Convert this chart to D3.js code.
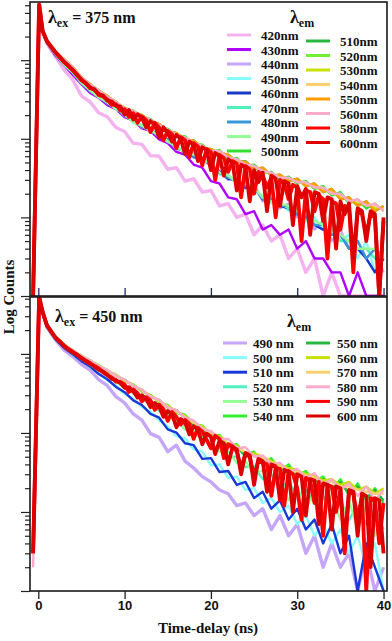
<!DOCTYPE html>
<html>
<head>
<meta charset="utf-8">
<script src="https://cdn.jsdelivr.net/npm/d3@7"></script>
<style>
body { margin: 0; background: #fff; }
svg { display: block; }
</style>
</head>
<body>
<svg id="chart" width="392" height="641"></svg>
<script>
// time channels (ns): a coarse grid for most decays, a finer one for the two red ones
var times = [-0.6, 0.1, 0.5, 1, 2, 3, 4, 5, 6, 7, 8, 9, 10, 11, 12, 13, 14, 15, 16, 17, 18, 19, 20,
  21, 22, 23, 24, 25, 26, 27, 28, 29, 30, 31, 32, 33, 34, 35, 36, 37, 38, 39, 40];
var timesFine = [-0.6, 0.1, 0.5, 1, 1.5, 2, 2.5, 3, 3.5, 4, 4.5, 5, 5.5, 6, 6.5, 7, 7.5, 8, 8.5, 9, 9.5,
  10, 10.5, 11, 11.5, 12, 12.5, 13, 13.5, 14, 14.5, 15, 15.5, 16, 16.5, 17, 17.5, 18, 18.5, 19, 19.5,
  20, 20.5, 21, 21.5, 22, 22.5, 23, 23.5, 24, 24.5, 25, 25.5, 26, 26.5, 27, 27.5, 28, 28.5, 29, 29.5,
  30, 30.5, 31, 31.5, 32, 32.5, 33, 33.5, 34, 34.5, 35, 35.5, 36, 36.5, 37, 37.5, 38, 38.5, 39, 39.5, 40];
var xTicks = [0, 10, 20, 30, 40];

// excitation 375 nm, counts
var ex375_420 = [1, 4950, 2280, 1620, 1110, 745, 560, 352, 295, 214, 190, 139, 124, 88, 85, 61, 60, 41, 43, 29, 31, 21, 22, 14, 15, 10, 11, 6, 8, 5, 6, 3, 4, 2, 3, 1, 2, 0, 1, 0, 1, 0, 0];
var ex375_430 = [1, 5050, 2330, 1670, 1140, 862, 648, 495, 384, 333, 268, 238, 188, 170, 136, 126, 98, 88, 68, 63, 47, 43, 29, 27, 18, 17, 11, 12, 7, 8, 6, 7, 4, 5, 3, 3, 2, 2, 1, 2, 1, 1, 0];
var ex375_440 = [1, 5080, 2340, 1710, 1180, 890, 690, 528, 402, 350, 281, 249, 196, 171, 140, 133, 104, 99, 73, 72, 57, 58, 44, 39, 30, 31, 23, 26, 16, 18, 13, 15, 10, 11, 7, 9, 5, 7, 4, 5, 3, 4, 2];
var ex375_450 = [1, 5070, 2350, 1690, 1200, 872, 708, 512, 418, 336, 294, 237, 210, 161, 150, 124, 114, 91, 82, 66, 65, 51, 51, 35, 35, 27, 28, 22, 19, 15, 16, 12, 13, 9, 10, 7, 8, 5, 6, 3, 5, 2, 4];
var ex375_460 = [1, 5090, 2330, 1705, 1185, 885, 695, 525, 405, 347, 283, 246, 199, 169, 142, 131, 107, 97, 76, 71, 59, 56, 46, 38, 31, 30, 24, 25, 17, 17, 14, 13, 11, 10, 8, 7, 6, 6, 4, 4, 3, 2, 3];
var ex375_470 = [1, 5080, 2345, 1695, 1195, 876, 704, 516, 414, 339, 292, 240, 206, 163, 148, 126, 112, 93, 80, 67, 64, 53, 49, 36, 34, 28, 27, 23, 18, 16, 15, 13, 12, 9, 9, 8, 7, 5, 5, 4, 4, 3, 4];
var ex375_480 = [1, 5085, 2338, 1702, 1188, 882, 697, 522, 407, 345, 285, 245, 201, 168, 143, 130, 108, 96, 77, 70, 60, 56, 47, 37, 32, 29, 25, 24, 17, 17, 14, 14, 11, 10, 8, 8, 6, 6, 4, 5, 3, 4, 3];
var ex375_490 = [1, 5075, 2342, 1698, 1192, 878, 702, 518, 412, 340, 290, 241, 205, 164, 147, 127, 111, 94, 79, 68, 63, 54, 49, 37, 34, 28, 27, 24, 18, 16, 15, 14, 12, 9, 9, 8, 7, 6, 5, 4, 4, 4, 3];
var ex375_500 = [1, 5120, 2380, 1790, 1268, 1035, 802, 612, 484, 416, 340, 298, 238, 229, 190, 178, 145, 134, 110, 107, 86, 84, 67, 72, 56, 57, 45, 47, 37, 38, 30, 33, 27, 29, 23, 25, 19, 21, 15, 17, 13, 15, 12];
var ex375_510 = [1, 5110, 2385, 1780, 1282, 1018, 818, 598, 498, 404, 352, 286, 249, 219, 201, 168, 155, 125, 119, 98, 95, 77, 74, 66, 63, 51, 52, 41, 43, 34, 35, 29, 31, 25, 27, 21, 23, 17, 18, 14, 16, 12, 14];
var ex375_520 = [1, 5130, 2375, 1788, 1272, 1030, 806, 608, 488, 413, 343, 295, 241, 226, 193, 175, 148, 131, 112, 104, 88, 82, 69, 70, 58, 55, 47, 45, 39, 36, 32, 31, 28, 27, 24, 23, 20, 19, 16, 16, 14, 14, 13];
var ex375_530 = [1, 5115, 2382, 1783, 1278, 1022, 814, 602, 494, 407, 349, 289, 246, 221, 199, 170, 153, 127, 117, 100, 93, 79, 73, 67, 62, 52, 50, 42, 42, 35, 34, 30, 30, 26, 26, 22, 22, 18, 17, 15, 15, 13, 13];
var ex375_540 = [1, 5125, 2378, 1786, 1276, 1028, 808, 606, 490, 411, 345, 293, 244, 223, 196, 172, 151, 129, 114, 103, 90, 81, 70, 69, 59, 54, 48, 44, 40, 36, 33, 31, 29, 27, 25, 23, 21, 19, 17, 16, 15, 14, 13];
var ex375_550 = [1, 5118, 2384, 1781, 1280, 1020, 816, 600, 496, 405, 351, 287, 247, 220, 200, 169, 154, 126, 118, 99, 94, 78, 74, 66, 63, 51, 51, 42, 43, 34, 35, 29, 31, 25, 27, 21, 23, 17, 18, 14, 16, 12, 14];
var ex375_560 = [1, 5122, 2379, 1787, 1273, 1029, 807, 607, 489, 412, 344, 294, 243, 224, 195, 173, 150, 130, 113, 103, 89, 81, 70, 70, 58, 55, 47, 45, 39, 37, 32, 32, 28, 28, 24, 24, 20, 20, 16, 17, 14, 15, 12];
// red decays, on the fine grid
var ex375_580 = [1, 5100, 2350, 1755, 1490, 1250, 1095, 940, 852, 740, 655, 555, 515, 440, 428, 360, 345, 318, 270, 275, 228,
  238, 190, 212, 160, 192, 172, 122, 160, 138, 96, 126, 114, 76, 105, 96, 58, 88, 80, 46, 74,
  68, 30, 62, 57, 38, 52, 48, 18, 45, 41, 20, 38, 34, 24, 32, 10, 30, 27, 17, 26,
  24, 5, 22, 21, 12, 19, 17, 3, 16, 15, 7, 14, 13, 2, 12, 11, 6, 11, 10, 0, 9];
var ex375_600 = [1, 5100, 2350, 1740, 1470, 1265, 1085, 950, 840, 752, 640, 568, 505, 450, 420, 372, 356, 305, 300, 262, 256,
  205, 232, 176, 205, 185, 140, 168, 150, 104, 140, 118, 92, 112, 100, 64, 92, 84, 52, 78, 72,
  40, 66, 60, 34, 55, 50, 22, 47, 44, 16, 40, 28, 37, 12, 34, 31, 14, 29, 27, 8,
  25, 18, 23, 6, 21, 20, 9, 18, 17, 4, 16, 11, 15, 3, 13, 12, 5, 12, 11, 1, 10];

// excitation 450 nm, lower panel
var ex450_490 = [3, 5200, 3350, 2170, 1500, 1120, 925, 738, 622, 472, 396, 288, 240, 174, 145, 98, 88, 58, 70, 44, 36, 28, 24, 19, 17, 12, 13, 9, 11, 6, 9, 5, 7, 3, 5, 2, 4, 2, 3, 1, 3, 0, 2];
var ex450_500 = [3, 5230, 3380, 2240, 1510, 1210, 970, 832, 676, 575, 462, 398, 312, 272, 214, 186, 144, 121, 91, 85, 62, 58, 39, 40, 27, 28, 19, 20, 13, 15, 10, 12, 7, 9, 5, 7, 4, 6, 3, 5, 2, 4, 1];
var ex450_510 = [3, 5240, 3390, 2225, 1530, 1190, 988, 810, 692, 556, 478, 382, 328, 258, 226, 174, 156, 111, 101, 74, 70, 47, 48, 32, 33, 22, 24, 15, 18, 11, 14, 8, 11, 6, 8, 4, 7, 3, 5, 0, 4, 2, 0];
var ex450_520 = [3, 5245, 3400, 2310, 1580, 1255, 1025, 880, 732, 634, 522, 458, 372, 330, 266, 238, 190, 174, 134, 126, 96, 92, 66, 66, 50, 50, 37, 38, 26, 30, 20, 24, 16, 19, 13, 16, 10, 14, 8, 12, 7, 11, 6];
var ex450_530 = [3, 5250, 3395, 2295, 1600, 1235, 1045, 860, 748, 616, 538, 442, 388, 314, 282, 224, 204, 160, 148, 110, 106, 80, 76, 58, 58, 42, 44, 30, 34, 20, 26, 14, 21, 11, 18, 9, 16, 8, 14, 6, 12, 5, 11];
var ex450_540 = [3, 5260, 3410, 2360, 1640, 1320, 1090, 955, 810, 720, 606, 546, 454, 410, 336, 302, 246, 225, 180, 170, 130, 124, 92, 94, 70, 72, 53, 58, 40, 48, 33, 40, 28, 33, 24, 28, 19, 26, 16, 23, 14, 20, 13];
var ex450_550 = [3, 5255, 3405, 2345, 1660, 1300, 1110, 935, 830, 700, 626, 526, 474, 392, 354, 286, 262, 209, 194, 155, 124, 112, 87, 86, 66, 68, 50, 55, 42, 44, 35, 37, 30, 30, 25, 26, 20, 24, 17, 21, 15, 19, 14];
var ex450_560 = [3, 5260, 3408, 2355, 1645, 1315, 1095, 950, 815, 715, 611, 541, 459, 405, 340, 298, 250, 221, 184, 166, 133, 121, 95, 91, 73, 69, 56, 55, 50, 44, 40, 36, 34, 30, 29, 25, 26, 22, 24, 19, 21, 17, 20];
var ex450_570 = [3, 5258, 3402, 2350, 1655, 1305, 1105, 940, 825, 705, 621, 531, 469, 397, 350, 290, 258, 213, 190, 158, 136, 116, 98, 88, 72, 66, 56, 52, 47, 42, 38, 34, 32, 29, 27, 24, 24, 21, 21, 19, 18, 17, 17];
var ex450_580 = [2, 5250, 3400, 2340, 1650, 1300, 1110, 935, 830, 700, 626, 528, 472, 394, 352, 288, 262, 210, 194, 156, 144, 112, 106, 84, 84, 64, 66, 50, 52, 40, 42, 32, 35, 27, 31, 22, 26, 19, 23, 16, 21, 14, 19];
// red decays, on the fine grid
var ex450_590 = [3, 5250, 3400, 2310, 1920, 1590, 1440, 1270, 1130, 1045, 975, 895, 810, 750, 705, 655, 585, 540, 505, 445, 442,
  410, 330, 356, 318, 250, 284, 258, 196, 228, 200, 142, 184, 160, 128, 146, 130, 84, 116, 104, 82,
  64, 92, 84, 48, 72, 68, 58, 36, 54, 50, 28, 45, 42, 40, 16, 36, 35, 12, 33, 30,
  20, 8, 27, 25, 13, 24, 5, 22, 21, 10, 19, 3, 18, 17, 8, 16, 1, 15, 14, 4, 13];
var ex450_600 = [3, 5250, 3400, 2290, 1900, 1610, 1420, 1250, 1150, 1060, 965, 880, 820, 765, 690, 632, 600, 548, 482, 468, 430,
  372, 380, 338, 280, 300, 270, 212, 240, 218, 160, 190, 172, 118, 150, 138, 96, 122, 110, 72, 98,
  90, 54, 80, 74, 40, 66, 62, 30, 56, 52, 22, 47, 44, 18, 40, 38, 14, 34, 32, 10,
  30, 28, 9, 26, 25, 7, 23, 22, 6, 21, 20, 4, 19, 18, 5, 17, 16, 2, 15, 14, 3];

var ex375_labels = ['420nm', '430nm', '440nm', '450nm', '460nm', '470nm', '480nm', '490nm', '500nm',
  '510nm', '520nm', '530nm', '540nm', '550nm', '560nm', '580nm', '600nm'];
var ex450_labels = ['490 nm', '500 nm', '510 nm', '520 nm', '530 nm', '540 nm',
  '550 nm', '560 nm', '570 nm', '580 nm', '590 nm', '600 nm'];

var ex375_series = [ex375_420, ex375_430, ex375_440, ex375_450, ex375_460, ex375_470, ex375_480, ex375_490, ex375_500,
  ex375_510, ex375_520, ex375_530, ex375_540, ex375_550, ex375_560, ex375_580, ex375_600];
var ex450_series = [ex450_490, ex450_500, ex450_510, ex450_520, ex450_530, ex450_540,
  ex450_550, ex450_560, ex450_570, ex450_580, ex450_590, ex450_600];

var ex375_colors = ['#f4b2ee', '#b000ff', '#c6a6f8', '#88ffff', '#1838c8', '#50f0b8', '#3898d8', '#98ff98', '#30e030',
  '#28b840', '#70f030', '#c8e000', '#f8d070', '#ff9c00', '#ffaacc', '#ff0000', '#dc0000'];
var ex450_colors = ['#c6a6f8', '#88ffff', '#1838d8', '#50f0c0', '#98ff98', '#30f030',
  '#28b840', '#c8e000', '#f8d070', '#ffaacc', '#ff0000', '#dc0000'];

var serif = '"Liberation Serif", "Times New Roman", serif';
var sans = '"Liberation Sans", Arial, sans-serif';
var left = 30, right = 387;

var svg = d3.select('#chart');
var x = d3.scaleLinear().domain([-0.96, 40.4]).range([left, right]);

function lambdaText(xp, yp, sub, rest, size) {
    var t = svg.append('text').attr('x', xp).attr('y', yp)
        .attr('font-family', serif).attr('font-weight', 'bold').attr('fill', '#111');
    t.append('tspan').attr('font-size', size + 2).text('λ');
    t.append('tspan').attr('font-size', Math.round(size * 0.78)).attr('dy', 4).text(sub);
    if (rest) t.append('tspan').attr('font-size', size).attr('dy', -4).text('\u00a0' + rest);
}

function panel(p) {
    var y = d3.scaleLog().domain([1, p.ymax]).range([p.y1, p.y0]);
    var g = svg.append('g');

    g.append('clipPath').attr('id', p.id).append('rect')
        .attr('x', left).attr('y', p.y0).attr('width', right - left).attr('height', p.y1 - p.y0);

    // the time grid follows the length of each series
    var line = d3.line()
        .x((d, i, arr) => x((arr.length === timesFine.length ? timesFine : times)[i]))
        .y((d) => y(Math.max(d, 1)));

    g.append('g').attr('clip-path', 'url(#' + p.id + ')')
        .selectAll('path').data(p.series).enter().append('path')
        .attr('d', line)
        .attr('fill', 'none')
        .attr('stroke', (d, i) => p.colors[i])
        .attr('stroke-width', (d, i) => d.length === timesFine.length ? 3.8 : (i === 0 ? 3.4 : 2.4))
        .attr('stroke-linejoin', 'round');

    // log ticks on the left, no labels
    var major = [], minor = [];
    [1, 10, 100, 1000].forEach((dec) => {
        major.push(dec);
        for (var k = 2; k < 10; k++) if (dec * k <= p.ymax) minor.push(dec * k);
    });
    var ya = g.append('g').attr('transform', 'translate(' + left + ',0)');
    ya.call(d3.axisLeft(y).tickValues(major).tickSize(9).tickSizeOuter(0).tickFormat(''));
    ya.append('g').call(d3.axisLeft(y).tickValues(minor).tickSize(5).tickSizeOuter(0).tickFormat(''));
    ya.selectAll('.domain').remove();
    ya.selectAll('line').attr('stroke', '#222').attr('stroke-width', 1.2);

    // x ticks along the bottom edge
    var xa = g.append('g').attr('transform', 'translate(0,' + p.y1 + ')');
    xa.call(d3.axisBottom(x).tickValues(xTicks).tickSize(p.inside ? -8 : 8).tickSizeOuter(0)
        .tickFormat(p.inside ? '' : d3.format('d')));
    xa.selectAll('.domain').remove();
    xa.selectAll('line').attr('stroke', p.inside ? '#1c2a6a' : '#222').attr('stroke-width', 1.3);
    xa.selectAll('text').attr('font-family', sans).attr('font-weight', 'bold')
        .attr('font-size', 13).attr('fill', '#111').attr('y', 10).attr('dy', '0.71em');

    g.append('rect').attr('x', left).attr('y', p.y0)
        .attr('width', right - left).attr('height', p.y1 - p.y0)
        .attr('fill', 'none').attr('stroke', '#1a1a1a').attr('stroke-width', 1.6);

    // legend
    var leg = svg.append('g').attr('font-family', serif).attr('font-weight', 'bold')
        .attr('font-size', 13).attr('fill', '#111');
    p.labels.forEach((lab, i) => {
        var c = i < p.split ? 0 : 1;
        var r = c ? i - p.split : i;
        var ly = p.legendY[c] + r * p.rowGap;
        leg.append('line').attr('x1', p.lineX[c]).attr('x2', p.lineX[c] + 24)
            .attr('y1', ly).attr('y2', ly)
            .attr('stroke', p.colors[i]).attr('stroke-width', 3);
        leg.append('text').attr('x', p.textX[c]).attr('y', ly + 5).text(lab);
    });
}

panel({
    id: 'clip375', y0: 2, y1: 296, ymax: 5500, inside: true,
    series: ex375_series, colors: ex375_colors, labels: ex375_labels,
    split: 9, legendY: [35, 41], rowGap: 14.5, lineX: [227, 306], textX: [261, 340]
});
panel({
    id: 'clip450', y0: 297, y1: 591, ymax: 5250, inside: false,
    series: ex450_series, colors: ex450_colors, labels: ex450_labels,
    split: 6, legendY: [343, 343], rowGap: 14.6, lineX: [223, 306], textX: [253, 337]
});

lambdaText(48, 23, 'ex', '= 375 nm', 16);
lambdaText(55, 322, 'ex', '= 450 nm', 16);
lambdaText(290, 23, 'em', null, 16);
lambdaText(287, 327, 'em', null, 16);

svg.append('text').attr('x', 208).attr('y', 633).attr('text-anchor', 'middle')
    .attr('font-family', serif).attr('font-weight', 'bold').attr('font-size', 15).attr('fill', '#111')
    .text('Time-delay (ns)');
svg.append('text').attr('transform', 'translate(14,297) rotate(-90)').attr('text-anchor', 'middle')
    .attr('font-family', serif).attr('font-weight', 'bold').attr('font-size', 15).attr('fill', '#111')
    .text('Log Counts');
</script>
</body>
</html>
